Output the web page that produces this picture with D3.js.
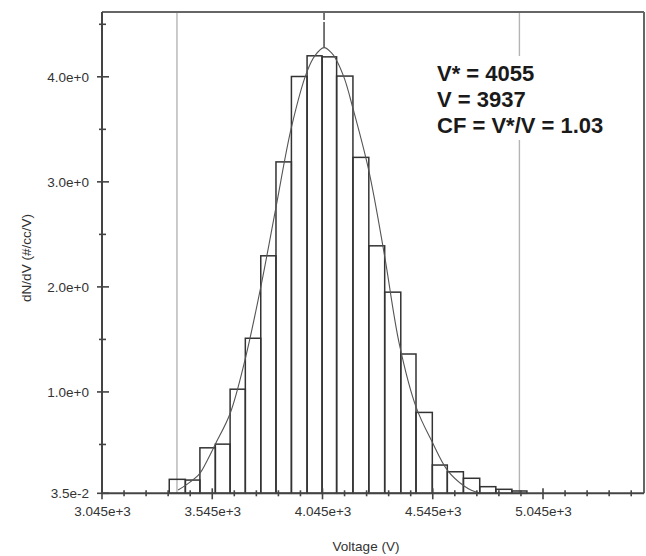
<!DOCTYPE html>
<html>
<head>
<meta charset="utf-8">
<script src="https://cdn.jsdelivr.net/npm/d3@7/dist/d3.min.js"></script>
<style>
  html, body { margin: 0; padding: 0; background: #fff; }
  svg { display: block; font-family: "Liberation Sans", Arial, sans-serif; }
</style>
</head>
<body>
<svg id="chart" width="646" height="556"></svg>
<script>
// ---- data ----
const binEdges = [3350, 3423, 3489, 3559, 3626, 3695, 3765, 3834, 3904, 3975, 4043, 4109,
                  4183, 4255, 4327, 4400, 4469, 4543, 4611, 4684, 4758, 4831, 4904, 4972];
const binValues = [0.168, 0.161, 0.468, 0.503, 1.026, 1.511, 2.296, 3.19, 4.003, 4.20, 4.19,
                   4.007, 3.233, 2.391, 1.95, 1.361, 0.805, 0.304, 0.24, 0.178, 0.098, 0.073, 0.057];
const fitVoltage = [3390, 3430, 3487, 3525, 3559, 3626, 3695, 3765, 3834, 3904, 3973, 4010,
                    4052, 4085, 4106, 4145, 4182, 4255, 4325, 4393, 4469, 4542, 4611, 4687, 4720, 4756];
const fitValue   = [0.066, 0.12, 0.22, 0.36, 0.503, 0.795, 1.318, 1.998, 2.758, 3.518, 4.04, 4.2,
                    4.278, 4.23, 4.168, 3.98, 3.708, 3.107, 2.315, 1.46, 0.858, 0.525, 0.256, 0.104, 0.065, 0.041];
const markerVoltages = [3385, 4938];   // grey vertical limit lines
const peakVoltage = 4052;              // dashed peak marker
const xMajorTicks = [3045, 3545, 4045, 4545, 5045];
const xMinorTicks = [3145, 3245, 3345, 3445, 3645, 3745, 3845, 3945, 4145, 4245, 4345, 4445,
                     4645, 4745, 4845, 4945, 5145, 5245, 5345, 5445];
const yMajorTicks = [0.035, 1, 2, 3, 4];
const yMinorTicks = [0.5, 1.5, 2.5, 3.5, 4.5];
const annotationLines = ["V* = 4055", "V = 3937", "CF = V*/V = 1.03"];
const xTitle = "Voltage (V)";
const yTitle = "dN/dV (#/cc/V)";
const xDomain = [3045, 5503];
const yDomain = [0.035, 4.617];

// ---- layout ----
const svg = d3.select("#chart");
const L = 102, R = 644, T = 12, B = 493.3;
const x = d3.scaleLinear().domain(xDomain).range([L, R]);
const y = d3.scaleLinear().domain(yDomain).range([B, T]);

// grey limit lines
svg.selectAll("line.marker").data(markerVoltages).enter().append("line")
  .attr("class", "marker")
  .attr("x1", d => x(d)).attr("x2", d => x(d))
  .attr("y1", T).attr("y2", B)
  .attr("stroke", "#b4b4b4").attr("stroke-width", 1.4);

// annotation background (interrupts the grey line)
svg.append("rect").attr("x", 430).attr("y", 56).attr("width", 180).attr("height", 84).attr("fill", "#fff");

// dashed peak marker
svg.append("line")
  .attr("x1", x(peakVoltage)).attr("x2", x(peakVoltage))
  .attr("y1", T).attr("y2", y(d3.max(fitValue)))
  .attr("stroke", "#555").attr("stroke-width", 1.6)
  .attr("stroke-dasharray", "8,2,200");

// histogram bars
const bins = binValues.map((v, i) => ({x0: binEdges[i], x1: binEdges[i + 1], v}));
svg.selectAll("rect.bar").data(bins).enter().append("rect")
  .attr("class", "bar")
  .attr("x", d => x(d.x0)).attr("width", d => x(d.x1) - x(d.x0))
  .attr("y", d => y(d.v)).attr("height", d => B - y(d.v))
  .attr("fill", "none").attr("stroke", "#333").attr("stroke-width", 1.5);

// fitted curve
const fit = fitVoltage.map((v, i) => [v, fitValue[i]]);
svg.append("path").datum(fit)
  .attr("d", d3.line().x(d => x(d[0])).y(d => y(d[1])).curve(d3.curveCatmullRom.alpha(0.5)))
  .attr("fill", "none").attr("stroke", "#555").attr("stroke-width", 1.1);

// frame (top and right)
svg.append("line").attr("x1", L).attr("x2", R).attr("y1", T).attr("y2", T)
  .attr("stroke", "#666").attr("stroke-width", 2);
svg.append("line").attr("x1", R).attr("x2", R).attr("y1", T).attr("y2", B)
  .attr("stroke", "#666").attr("stroke-width", 2);

// axes lines
svg.append("line").attr("x1", L).attr("x2", R).attr("y1", B).attr("y2", B)
  .attr("stroke", "#444").attr("stroke-width", 2);
svg.append("line").attr("x1", L).attr("x2", L).attr("y1", T).attr("y2", B)
  .attr("stroke", "#444").attr("stroke-width", 2);

// tick marks crossing the axes
svg.selectAll("line.xmaj").data(xMajorTicks).enter().append("line")
  .attr("x1", d => x(d)).attr("x2", d => x(d)).attr("y1", B - 5).attr("y2", B + 6)
  .attr("stroke", "#444").attr("stroke-width", 1.6);
svg.selectAll("line.xmin").data(xMinorTicks).enter().append("line")
  .attr("x1", d => x(d)).attr("x2", d => x(d)).attr("y1", B - 3).attr("y2", B + 3)
  .attr("stroke", "#444").attr("stroke-width", 1.6);
svg.selectAll("line.ymaj").data(yMajorTicks).enter().append("line")
  .attr("x1", L - 5).attr("x2", L + 7).attr("y1", d => y(d)).attr("y2", d => y(d))
  .attr("stroke", "#444").attr("stroke-width", 1.6);
svg.selectAll("line.ymin").data(yMinorTicks).enter().append("line")
  .attr("x1", L - 3).attr("x2", L + 4).attr("y1", d => y(d)).attr("y2", d => y(d))
  .attr("stroke", "#444").attr("stroke-width", 1.6);

// tick labels via d3 axes
const xAxis = svg.append("g").attr("transform", `translate(0,${B})`)
  .call(d3.axisBottom(x).tickValues(xMajorTicks).tickSize(0).tickPadding(13)
        .tickFormat(d3.format(".3e")));
const yAxis = svg.append("g").attr("transform", `translate(${L},0)`)
  .call(d3.axisLeft(y).tickValues(yMajorTicks).tickSize(0).tickPadding(13)
        .tickFormat(d3.format(".1e")));
[xAxis, yAxis].forEach(g => {
  g.select(".domain").remove();
  g.selectAll("text").attr("font-size", 13.5).attr("fill", "#333")
    .attr("font-family", "'Liberation Sans', Arial, sans-serif");
});

// axis titles
svg.append("text").attr("x", 366).attr("y", 551).attr("text-anchor", "middle")
  .attr("font-size", 13.5).attr("fill", "#333").text(xTitle);
svg.append("text").attr("transform", "translate(31,258) rotate(-90)").attr("text-anchor", "middle")
  .attr("font-size", 13.5).attr("fill", "#333").text(yTitle);

// annotation
svg.selectAll("text.ann").data(annotationLines).enter().append("text")
  .attr("class", "ann")
  .attr("x", 437).attr("y", (d, i) => 81 + i * 25.8)
  .attr("font-size", 22).attr("font-weight", "bold").attr("fill", "#1a1a1a")
  .text(d => d);
</script>
</body>
</html>
